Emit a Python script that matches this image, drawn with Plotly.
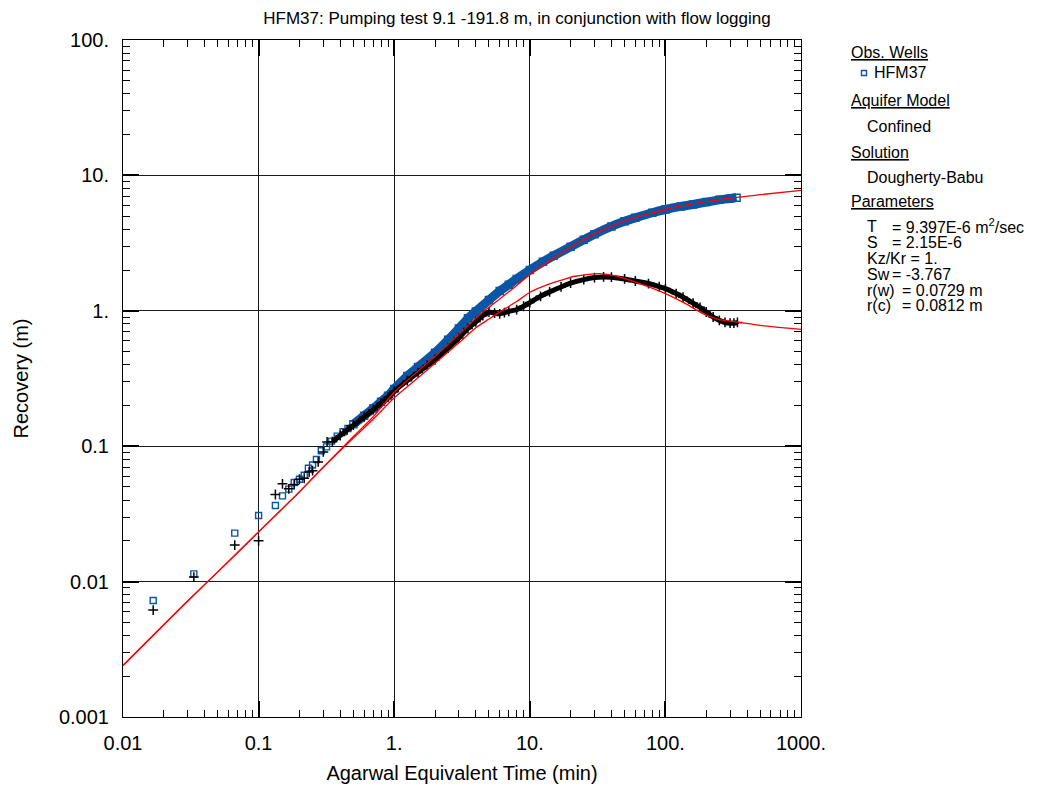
import plotly.graph_objects as go

# ---------------- data ----------------
# early, sparse observations (blue squares = recovery, black crosses = second series)
t_obs_early = [0.0167, 0.0333, 0.0667, 0.1, 0.133, 0.15, 0.167, 0.183, 0.2, 0.217,
               0.233, 0.25, 0.267, 0.29, 0.317, 0.345, 0.38, 0.42, 0.456]
rec_obs_early = [0.00726, 0.0114, 0.0228, 0.0308, 0.0365, 0.043, 0.0482, 0.054, 0.057, 0.061,
                 0.0688, 0.0726, 0.0798, 0.0925, 0.0988, 0.109, 0.1186, 0.128, 0.135]

t_der_early = [0.0167, 0.0333, 0.0667, 0.1, 0.133, 0.15, 0.167, 0.183, 0.2, 0.217,
               0.236, 0.25, 0.275, 0.3, 0.32]
rec_der_early = [0.00616, 0.0108, 0.0186, 0.020, 0.044, 0.0527, 0.0484, 0.0521, 0.057, 0.058,
                 0.0645, 0.066, 0.0766, 0.0907, 0.1076]

# dense observations (continuous band)
t_obs_dense = [0.5, 0.6, 0.7, 0.8, 0.9, 1.0, 1.25, 1.5, 2.0, 2.5, 3.0, 3.5, 4.0, 5.0, 6.0,
               7.0, 8.0, 10, 12.5, 15, 20, 25, 30, 40, 50, 60, 80, 100, 130, 160, 200,
               250, 300, 335]
rec_obs_dense = [0.145, 0.168, 0.19, 0.213, 0.236, 0.265, 0.33, 0.385, 0.49, 0.61, 0.74, 0.88,
                 0.99, 1.2, 1.4, 1.56, 1.72, 2.0, 2.3, 2.55, 2.97, 3.35, 3.68, 4.2, 4.58, 4.86,
                 5.3, 5.6, 5.9, 6.1, 6.35, 6.6, 6.75, 6.85]

t_der_dense = [0.35, 0.4, 0.45, 0.5, 0.6, 0.7, 0.8, 0.9, 1.0, 1.25, 1.5, 1.75, 2.0, 2.5, 3.0,
               3.5, 4.0, 4.5, 5.0, 5.5, 6.0, 6.5, 7.0, 8.0, 9.0, 10, 12, 14, 17, 20, 25, 30,
               35, 40, 50, 60, 75, 90, 100, 120, 135, 160, 180, 200, 225, 250, 275, 300,
               320, 340]
rec_der_dense = [0.108, 0.12, 0.132, 0.143, 0.165, 0.186, 0.208, 0.23, 0.255, 0.305, 0.35,
                 0.395, 0.435, 0.53, 0.63, 0.74, 0.83, 0.92, 0.98, 0.96, 0.95, 0.97, 0.99,
                 1.02, 1.08, 1.15, 1.28, 1.38, 1.5, 1.6, 1.7, 1.76, 1.78, 1.77, 1.72, 1.66,
                 1.59, 1.51, 1.46, 1.34, 1.26, 1.14, 1.06, 0.98, 0.90, 0.85, 0.82, 0.81,
                 0.81, 0.82]

# model curves (Dougherty-Babu)
t_model = [0.01, 0.02, 0.03, 0.05, 0.1, 0.2, 0.3, 0.5, 0.7, 1.0, 1.5, 2.0, 3.0, 4.0, 4.6,
           5.0, 7.0, 10, 15, 20, 30, 50, 70, 100, 150, 200, 300, 500, 1000]
rec_model = [0.0024, 0.0048, 0.0072, 0.0118, 0.0233, 0.046, 0.07, 0.118, 0.165, 0.25, 0.36,
             0.46, 0.67, 0.88, 1.0, 1.06, 1.38, 1.85, 2.45, 2.95, 3.7, 4.6, 5.1, 5.6, 6.1,
             6.4, 6.8, 7.2, 7.75]

t_model_der = [0.01, 0.02, 0.03, 0.05, 0.1, 0.2, 0.3, 0.5, 0.7, 1.0, 1.5, 2.0, 3.0, 4.0,
               5.0, 6.2, 8.0, 10, 14, 18.6, 21.5, 27, 32.7, 43.4, 63, 100, 143, 189, 250,
               340, 500, 1000]
rec_model_der = [0.0024, 0.0048, 0.0072, 0.0118, 0.0233, 0.046, 0.07, 0.115, 0.158, 0.228,
                 0.32, 0.41, 0.58, 0.75, 0.87, 1.0, 1.17, 1.37, 1.58, 1.73, 1.8, 1.86, 1.88,
                 1.8, 1.6, 1.34, 1.12, 0.953, 0.861, 0.826, 0.78, 0.73]

x_tickvals = [0.01, 0.1, 1, 10, 100, 1000]
x_ticktext = ["0.01", "0.1", "1.", "10.", "100.", "1000."]
y_tickvals = [0.001, 0.01, 0.1, 1, 10, 100]
y_ticktext = ["0.001", "0.01", "0.1", "1.", "10.", "100."]

title_text = "HFM37: Pumping test 9.1 -191.8 m, in conjunction with flow logging"
x_title = "Agarwal Equivalent Time (min)"
y_title = "Recovery (m)"

legend_rows = [
    ("<u>Obs. Wells</u>", 849, 52),
    ("HFM37", 872, 73),
    ("<u>Aquifer Model</u>", 849, 101),
    ("Confined", 865, 126),
    ("<u>Solution</u>", 849, 152),
    ("Dougherty-Babu", 865, 177),
    ("<u>Parameters</u>", 849, 202),
    ("T", 865, 226),
    ("= 9.397E-6 m<sup>2</sup>/sec", 890, 226),
    ("S", 865, 242),
    ("= 2.15E-6", 890, 242),
    ("Kz/Kr = 1.", 865, 258),
    ("Sw", 865, 274),
    ("= -3.767", 890, 274),
    ("r(w)", 865, 290),
    ("= 0.0729 m", 900, 290),
    ("r(c)", 865, 306),
    ("= 0.0812 m", 900, 306),
]

# ---------------- figure ----------------
W, H = 1053, 792
L, R, T, B = 123, 252, 40, 75
BLUE = "#0B55A5"
RED = "#FF0000"
FONT = "Liberation Sans, Arial, sans-serif"

fig = go.Figure()

fig.add_trace(go.Scatter(x=t_obs_dense, y=rec_obs_dense, mode="lines+markers",
                         line=dict(color=BLUE, width=9, shape="spline", smoothing=0.5),
                         marker=dict(symbol="square-open", size=7, color=BLUE, line=dict(width=1.5)),
                         showlegend=False, hoverinfo="skip"))
fig.add_trace(go.Scatter(x=t_obs_early, y=rec_obs_early, mode="markers", name="HFM37",
                         marker=dict(symbol="square-open", size=6, color=BLUE, line=dict(width=1.4)),
                         showlegend=False))
fig.add_trace(go.Scatter(x=t_der_dense, y=rec_der_dense, mode="lines+markers",
                         line=dict(color="black", width=5, shape="spline", smoothing=0.5),
                         marker=dict(symbol="cross-thin", size=7, color="black", line=dict(width=1.5, color="black")),
                         showlegend=False, hoverinfo="skip"))
fig.add_trace(go.Scatter(x=t_der_early, y=rec_der_early, mode="markers",
                         marker=dict(symbol="cross-thin", size=7, color="black", line=dict(width=1.5, color="black")),
                         showlegend=False))
fig.add_trace(go.Scatter(x=t_model, y=rec_model, mode="lines",
                         line=dict(color=RED, width=1.3, shape="spline", smoothing=0.6),
                         showlegend=False))
fig.add_trace(go.Scatter(x=t_model_der, y=rec_model_der, mode="lines",
                         line=dict(color=RED, width=1.3, shape="spline", smoothing=0.6),
                         showlegend=False))

axis_common = dict(
    type="log", showline=True, linecolor="black", linewidth=1, mirror="allticks",
    showgrid=True, gridcolor="#1a1a1a", gridwidth=1, zeroline=False,
    ticks="inside", ticklen=16, tickwidth=1.5, tickcolor="black",
    tickmode="array", tickfont=dict(family=FONT, size=20, color="black"),
    minor=dict(ticks="inside", ticklen=7, tickwidth=1, tickcolor="black", dtick="D1", showgrid=False),
)

fig.update_layout(
    width=W, height=H,
    margin=dict(l=L, r=R, t=T, b=B, autoexpand=False),
    paper_bgcolor="white", plot_bgcolor="white",
    font=dict(family=FONT, color="black"),
    title=dict(text=title_text, font=dict(family=FONT, size=17, color="black"),
               x=517 / W, xanchor="center", xref="container",
               y=1 - 18 / H, yanchor="middle", yref="container"),
    xaxis=dict(axis_common, range=[-2, 3], tickvals=x_tickvals, ticktext=x_ticktext,
               ticklabelstandoff=8,
               title=dict(text=x_title, font=dict(family=FONT, size=20, color="black"), standoff=12)),
    yaxis=dict(axis_common, range=[-3, 2], tickvals=y_tickvals, ticktext=y_ticktext,
               ticklabelstandoff=9,
               title=dict(text=y_title, font=dict(family=FONT, size=20, color="black"), standoff=24)),
    showlegend=False,
)

pw, ph = W - L - R, H - T - B


def px(x):
    return (x - L) / pw


def py(y):
    return (H - B - y) / ph


for text, x, y in legend_rows:
    fig.add_annotation(text=text, x=px(x), y=py(y), xref="paper", yref="paper",
                       xanchor="left", yanchor="middle", showarrow=False,
                       font=dict(family=FONT, size=16, color="black"))

# legend glyph for HFM37
fig.add_shape(type="rect", xref="paper", yref="paper",
              x0=px(861.5), x1=px(866.5), y0=py(75.5), y1=py(70.5),
              line=dict(color=BLUE, width=1.4), fillcolor="white")

fig.write_html("out.html")
